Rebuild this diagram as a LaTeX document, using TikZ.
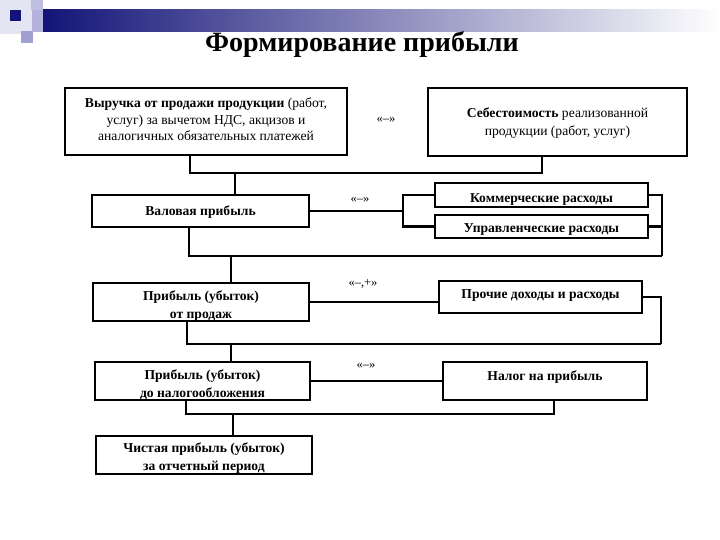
\documentclass[tikz,border=0pt]{standalone}
\usepackage{fontspec}
\setmainfont{Liberation Serif}
\definecolor{navy}{RGB}{20,20,120}
\definecolor{lav1}{RGB}{228,228,242}
\definecolor{lav2}{RGB}{190,190,225}
\definecolor{lav3}{RGB}{160,160,210}
\begin{document}
\begin{tikzpicture}[x=1pt,y=-1pt,
  box/.style={draw, line width=2.6pt, fill=white, inner sep=0pt, outer sep=0pt},
  txt/.style={align=center, inner sep=0pt, font=\fontsize{13.6}{16.5}\selectfont},
  btxt/.style={align=center, inner sep=0pt, font=\fontsize{13.6}{17.5}\selectfont\bfseries},
  conn/.style={line width=2.6pt},
  lab/.style={font=\fontsize{12.5}{14}\selectfont, inner sep=1pt}]
\useasboundingbox (0,0) rectangle (720,540);
\fill[white] (0,0) rectangle (720,540);
% decoration
\fill[lav1] (0,0) rectangle (32,34);
\shade[left color=navy, right color=white] (43,10) rectangle (720,32);
\fill[lav2] (31,0) rectangle (43,10);
\fill[lav3!80] (32,10) rectangle (43,32);
\fill[navy] (10,10) rectangle (21,21);
\fill[lav3] (21,31) rectangle (33,43);
% title
\node[font=\fontsize{28}{30}\selectfont\bfseries] (title) at (362,44) {Формирование прибыли};
% boxes
\node[box, minimum width=282pt, minimum height=67pt] (b1) at (206,121.5) {};
\node[box, minimum width=259pt, minimum height=68pt] (b2) at (557.5,122) {};
\node[box, minimum width=217pt, minimum height=32pt] (val) at (200.5,211) {};
\node[box, minimum width=213pt, minimum height=24pt] (kom) at (541.5,195) {};
\node[box, minimum width=213pt, minimum height=23pt] (upr) at (541.5,226.5) {};
\node[box, minimum width=216pt, minimum height=38pt] (ps) at (201,302) {};
\node[box, minimum width=203pt, minimum height=32pt] (proch) at (540.5,297) {};
\node[box, minimum width=215pt, minimum height=38pt] (pn) at (202.5,381) {};
\node[box, minimum width=204pt, minimum height=38pt] (nalog) at (545,381) {};
\node[box, minimum width=216pt, minimum height=38pt] (chist) at (204,455) {};
% texts
\node[txt] (b1t) at (206,119.5)
  {\textbf{Выручка от продажи продукции} (работ,\\ услуг) за вычетом НДС, акцизов и\\ аналогичных обязательных платежей};
\node[txt, font=\fontsize{13.6}{18}\selectfont] (b2t) at (557.5,123)
  {\textbf{Себестоимость} реализованной\\ продукции (работ, услуг)};
\node[btxt] (valt) at (200.5,212) {Валовая прибыль};
\node[btxt] (komt) at (541.5,199) {Коммерческие расходы};
\node[btxt] (uprt) at (541.5,229) {Управленческие расходы};
\node[btxt] (pst) at (201,306) {Прибыль (убыток)\\ от продаж};
\node[btxt] (procht) at (540.5,295) {Прочие доходы и расходы};
\node[btxt] (pnt) at (202.5,385) {Прибыль (убыток)\\ до налогообложения};
\node[btxt] (nalogt) at (545,377) {Налог на прибыль};
\node[btxt] (chistt) at (204,458) {Чистая прибыль (убыток)\\ за отчетный период};
% labels
\node[lab] (l1) at (386,120) {«–»};
\node[lab] (l2) at (360,200) {«–»};
\node[lab] (l3) at (363,284) {«–,+»};
\node[lab] (l4) at (366,366) {«–»};
% junction coordinates
\coordinate (j1l) at (190,173);
\coordinate (j1m) at (235,173);
\coordinate (j1r) at (542,173);
\coordinate (br1) at (403,211);
\coordinate (j2r) at (662,256);
\coordinate (j2l) at (189,256);
\coordinate (j2m) at (231,256);
\coordinate (j3r) at (661,344);
\coordinate (j3l) at (187,344);
\coordinate (j3m) at (231,344);
\coordinate (j4r) at (554,414);
\coordinate (j4l) at (186,414);
\coordinate (j4m) at (233,414);
% connectors
\begin{scope}[conn]
\draw (b1.south -| j1l) -- (j1l) -- (j1r) -- (b2.south -| j1r);
\draw (j1m) -- (val.north -| j1m);
\draw (val.east) -- (br1);
\draw (kom.west) -| (br1) |- (upr.west);
\draw (kom.east) -| (j2r);
\draw (upr.east) -- (upr.east -| j2r);
\draw (j2r) -- (j2l) -- (val.south -| j2l);
\draw (j2m) -- (ps.north -| j2m);
\draw (ps.east) -- (ps.east -| proch.west);
\draw (proch.east) -| (j3r);
\draw (j3r) -- (j3l) -- (ps.south -| j3l);
\draw (j3m) -- (pn.north -| j3m);
\draw (pn.east) -- (nalog.west);
\draw (nalog.south -| j4r) -- (j4r) -- (j4l) -- (pn.south -| j4l);
\draw (j4m) -- (chist.north -| j4m);
\end{scope}
\end{tikzpicture}
\end{document}
